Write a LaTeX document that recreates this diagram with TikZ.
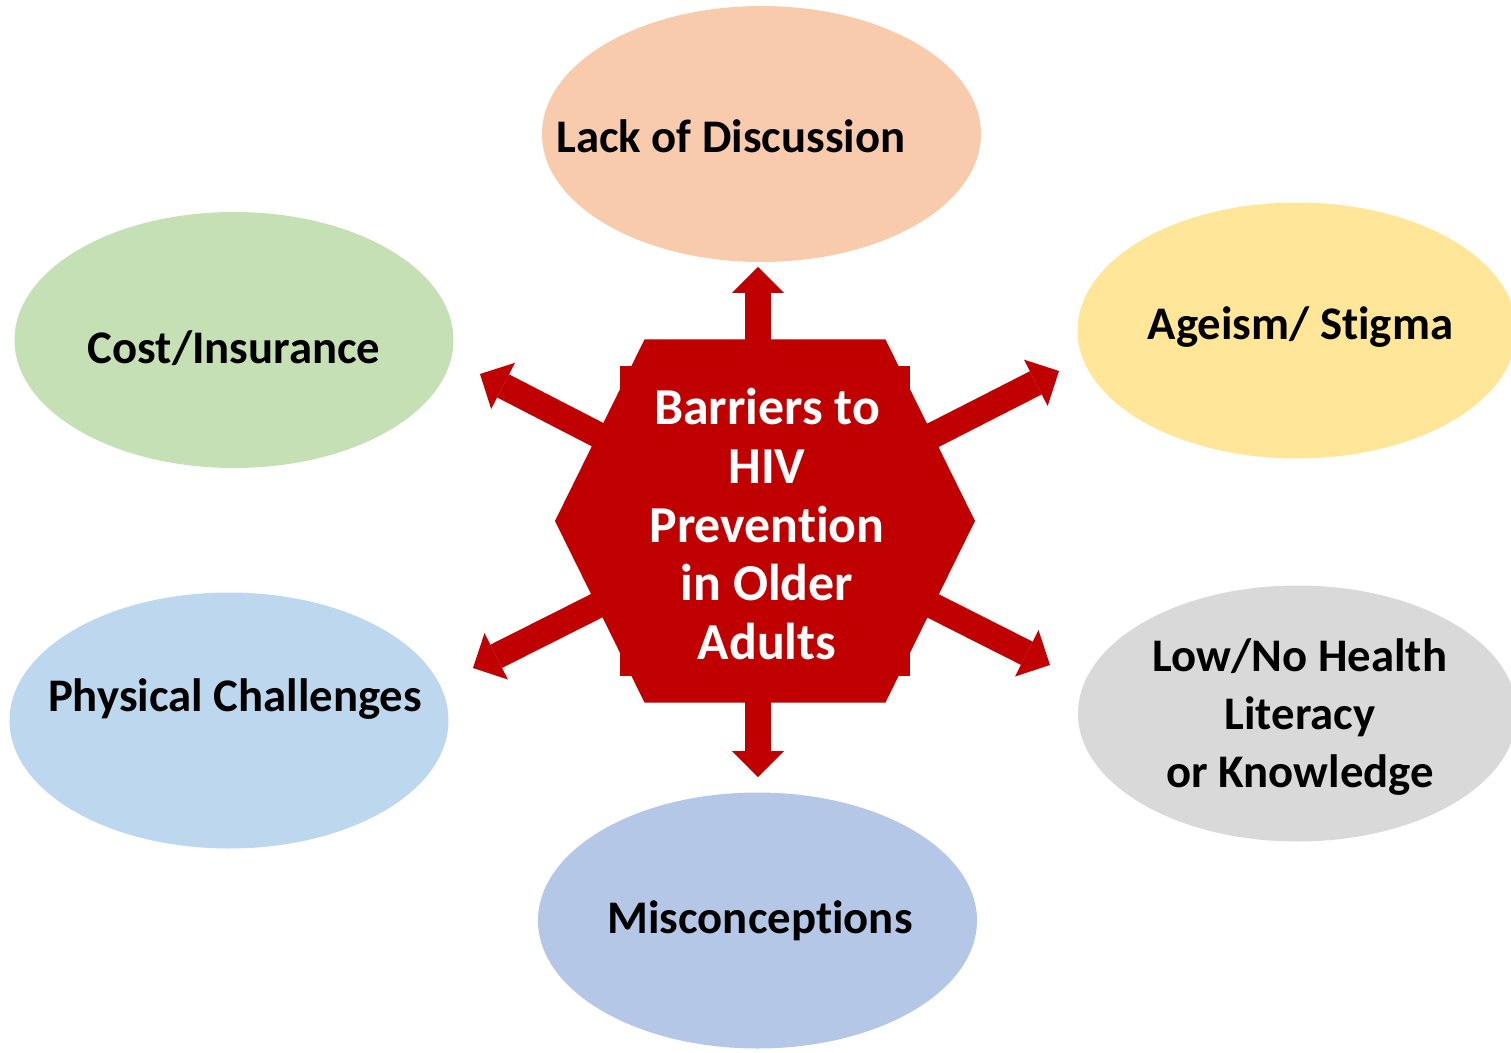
\documentclass[tikz,border=0pt]{standalone}
\usepackage{fontspec}
\setmainfont{Carlito}[Ligatures={NoCommon,NoContextual}, Contextuals=NoAlternate]
\usetikzlibrary{arrows.meta, calc, shapes.geometric}

\definecolor{hivred}{HTML}{C00000}
\definecolor{peach}{HTML}{F8CBAD}
\definecolor{butter}{HTML}{FFE699}
\definecolor{sage}{HTML}{C5E0B4}
\definecolor{skyblue}{HTML}{BDD7EE}
\definecolor{lightgray}{HTML}{D9D9D9}
\definecolor{steel}{HTML}{B4C7E7}

% keep t and i apart (no ligature)
\newcommand{\nolig}{\kern0pt}

\begin{document}
\begin{tikzpicture}
    \tikzset{
        bubble/.style={ellipse, minimum width=8.78cm, minimum height=5.12cm, inner sep=0pt},
        bubtext/.style={font=\fontsize{26.6}{33}\selectfont\bfseries, align=center, text=black},
        spoke/.style={draw=hivred, line width=0.52cm,
            -{Triangle[width=1.04cm, length=0.52cm, line width=0pt]}}
    }

    % frame of the picture
    \useasboundingbox (-15.3,-10.62) rectangle (14.92,10.42);

    % 1. key coordinates
    \coordinate (ctr) at (0,0);
    \coordinate (ctrUp) at (-0.14,0);
    \coordinate (tipUp) at (-0.14,5.08);
    \coordinate (tipDown) at (-0.14,-5.12);
    \coordinate (tipUL) at (-5.70,2.94);
    \coordinate (tipUR) at (5.88,3.00);
    \coordinate (tipLL) at (-5.84,-2.94);
    \coordinate (tipLR) at (5.70,-2.88);

    % 2. the six barriers (ellipses)
    \node[bubble, fill=peach] (disc) at (-0.07,7.74) {};
    \node[bubble, fill=butter] (ageism) at (10.64,3.81) {};
    \node[bubble, fill=sage] (cost) at (-10.62,3.62) {};
    \node[bubble, fill=skyblue] (phys) at (-10.72,-3.99) {};
    \node[bubble, fill=lightgray] (literacy) at (10.65,-3.85) {};
    \node[bubble, fill=steel] (miscon) at (-0.15,-7.99) {};

    \node[bubtext] (discText) at (-0.68,7.7) {Lack of Discussion};
    \node[bubtext] (ageismText) at (10.71,3.88) {Ageism/ St\nolig igma};
    \node[bubtext] (costText) at (-10.62,3.46) {Cost/Insurance};
    \node[bubtext] (physText) at (-10.6,-3.56) {Physical Challenges};
    \node[bubtext] (literacyText) at (10.7,-3.92) {Low/No Health\\Literacy\\or Knowledge};
    \node[bubtext] (misconText) at (-0.1,-8.0) {Misconcept\nolig ions};

    % 3. arrows out of the centre
    \draw[spoke] (ctrUp) -- (tipUp);
    \draw[spoke] (ctrUp) -- (tipDown);
    \foreach \tip in {tipUL, tipUR, tipLL, tipLR}
        \draw[spoke] (ctr) -- (\tip);

    % 4. central hexagon
    \fill[hivred] (-2.41,3.63) -- (2.41,3.63) -- (4.2,0) -- (2.41,-3.63)
        -- (-2.41,-3.63) -- (-4.2,0) -- cycle;
    \fill[hivred] (-2.89,-3.09) rectangle (2.89,3.09);

    \node[font=\fontsize{29.5}{33.5}\selectfont\bfseries, text=white, align=center]
        (hub) at (0.04,-0.06) {Barriers to\\HIV\\Prevent\nolig ion\\in Older\\Adults};

\end{tikzpicture}
\end{document}
